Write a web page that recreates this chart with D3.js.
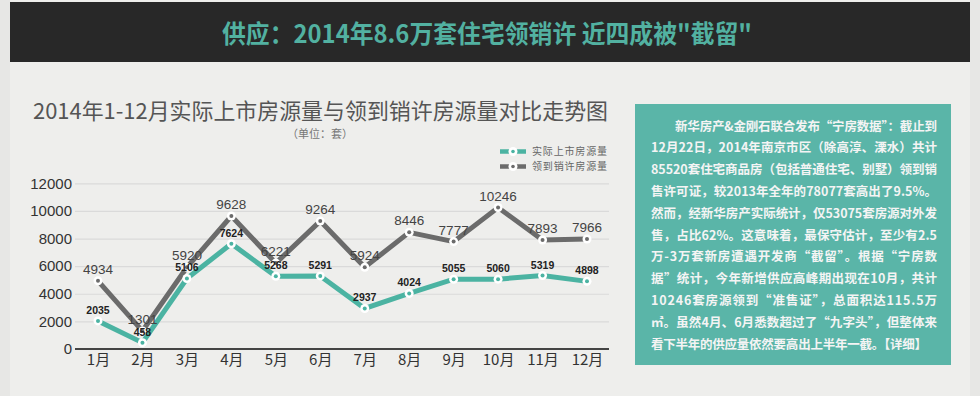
<!DOCTYPE html>
<html>
<head>
<meta charset="utf-8">
<script src="https://cdn.jsdelivr.net/npm/d3@7"></script>
<style>
  html, body { margin: 0; padding: 0; background: #e7e7e5; }
  svg { display: block; }
</style>
</head>
<body>
<script>
// months on the x axis
var months = ["1月","2月","3月","4月","5月","6月","7月","8月","9月","10月","11月","12月"];
// 领到销许房源量 (grey line)
var permitted = [4934, 1301, 5920, 9628, 6221, 9264, 5924, 8446, 7777, 10246, 7893, 7966];
// 实际上市房源量 (teal line)
var listed = [2035, 458, 5106, 7624, 5268, 5291, 2937, 4024, 5055, 5060, 5319, 4898];
var yTicks = [0, 2000, 4000, 6000, 8000, 10000, 12000];
var legendLabels = ["实际上市房源量", "领到销许房源量"];
var headline = "供应：2014年8.6万套住宅领销许 近四成被\"截留\"";
var chartTitle = "2014年1-12月实际上市房源量与领到销许房源量对比走势图";
var unitLabel = "（单位：套）";
var noteLines = [
  "新华房产&金刚石联合发布“宁房数据”：截止到",
  "12月22日，2014年南京市区（除高淳、溧水）共计",
  "85520套住宅商品房（包括普通住宅、别墅）领到销",
  "售许可证，较2013年全年的78077套高出了9.5%。",
  "然而，经新华房产实际统计，仅53075套房源对外发",
  "售，占比62%。这意味着，最保守估计，至少有2.5",
  "万-3万套新房遭遇开发商“截留”。根据“宁房数",
  "据”统计，今年新增供应高峰期出现在10月，共计",
  "10246套房源领到“准售证”，总面积达115.5万",
  "㎡。虽然4月、6月悉数超过了“九字头”，但整体来",
  "看下半年的供应量依然要高出上半年一截。【详细】"
];

var width = 980, height = 396;
var teal = "#4bb3a2", grey = "#6b6b6b";
var cjk = "'Noto Sans CJK SC', 'Noto Sans', sans-serif";
var latin = "'Liberation Sans', Arial, sans-serif";

var svg = d3.select("body").append("svg")
  .attr("width", width)
  .attr("height", height);

// panel + headline bar
svg.append("rect").attr("x", 10).attr("y", 0).attr("width", 960).attr("height", height).attr("fill", "#eeeeec");
svg.append("rect").attr("x", 10).attr("y", 2).attr("width", 960).attr("height", 60).attr("fill", "#282828");
svg.append("text")
  .attr("x", 487).attr("y", 43)
  .attr("text-anchor", "middle")
  .attr("font-family", cjk).attr("font-weight", "bold").attr("font-size", 25)
  .attr("textLength", 530).attr("lengthAdjust", "spacingAndGlyphs")
  .attr("fill", "#52b1a1")
  .text(headline);

// chart title
svg.append("text")
  .attr("x", 33).attr("y", 119)
  .attr("font-family", cjk).attr("font-size", 22)
  .attr("textLength", 575).attr("lengthAdjust", "spacingAndGlyphs")
  .attr("fill", "#555")
  .text(chartTitle);
svg.append("text")
  .attr("x", 320).attr("y", 138)
  .attr("text-anchor", "middle")
  .attr("font-family", cjk).attr("font-size", 11)
  .attr("fill", "#777")
  .text(unitLabel);

//scales
var x = d3.scalePoint().domain(months).range([98, 587]);
var y = d3.scaleLinear().domain([0, 12000]).range([349, 183.3]);

// y axis with grid
var yAxis = svg.append("g")
  .attr("transform", "translate(75,0)")
  .call(d3.axisLeft(y).tickValues(yTicks).tickFormat(d3.format("d")).tickSize(-534).tickPadding(3));
yAxis.select(".domain").remove();
yAxis.selectAll(".tick line").attr("stroke", "#dadada").attr("stroke-width", 1.2);
yAxis.selectAll(".tick text")
  .attr("font-family", latin).attr("font-size", 15).attr("fill", "#333");

// x axis
var xAxis = svg.append("g")
  .attr("transform", "translate(0,349)")
  .call(d3.axisBottom(x).tickSize(0).tickPadding(5));
xAxis.select(".domain").remove();
xAxis.selectAll(".tick text")
  .attr("font-family", cjk).attr("font-size", 15).attr("fill", "#333");
svg.append("line")
  .attr("x1", 75).attr("x2", 609)
  .attr("y1", y(0)).attr("y2", y(0))
  .attr("stroke", "#444").attr("stroke-width", 2);

var line = d3.line()
  .x(function(d, i) { return x(months[i]); })
  .y(function(d) { return y(d); });

var series = [
  {values: permitted, color: grey, labelSize: 13.5, labelColor: "#444", labelWeight: "normal"},
  {values: listed, color: teal, labelSize: 10.5, labelColor: "#222", labelWeight: "bold"}
];

series.forEach(function(s) {
  svg.append("path")
    .datum(s.values)
    .attr("d", line)
    .attr("fill", "none")
    .attr("stroke", s.color)
    .attr("stroke-width", 5)
    .attr("stroke-linejoin", "miter");
});

series.forEach(function(s) {
  var g = svg.append("g");
  g.selectAll(".ring")
    .data(s.values)
    .enter()
    .append("circle")
    .attr("cx", function(d, i) { return x(months[i]); })
    .attr("cy", function(d) { return y(d); })
    .attr("r", 4.5)
    .attr("fill", "#fff");
  g.selectAll(".dot")
    .data(s.values)
    .enter()
    .append("circle")
    .attr("cx", function(d, i) { return x(months[i]); })
    .attr("cy", function(d) { return y(d); })
    .attr("r", 2)
    .attr("fill", s.color);
});

series.forEach(function(s) {
  svg.append("g").selectAll("text")
    .data(s.values)
    .enter()
    .append("text")
    .attr("x", function(d, i) { return x(months[i]); })
    .attr("y", function(d) { return y(d) - 7; })
    .attr("text-anchor", "middle")
    .attr("font-family", latin)
    .attr("font-size", s.labelSize)
    .attr("font-weight", s.labelWeight)
    .attr("fill", s.labelColor)
    .text(function(d) { return d; });
});

// legend
var legend = svg.selectAll(".legend")
  .data(legendLabels)
  .enter()
  .append("g")
  .attr("class", "legend")
  .attr("transform", function(d, i) { return "translate(500," + (151.5 + i * 15) + ")"; });
legend.append("line")
  .attr("x1", 0).attr("x2", 26).attr("y1", 0).attr("y2", 0)
  .attr("stroke", function(d, i) { return i == 0 ? teal : grey; })
  .attr("stroke-width", 4.5);
legend.append("circle").attr("cx", 13).attr("cy", 0).attr("r", 4.5).attr("fill", "#fff");
legend.append("circle").attr("cx", 13).attr("cy", 0).attr("r", 1.8)
  .attr("fill", function(d, i) { return i == 0 ? teal : grey; });
legend.append("text")
  .attr("x", 32).attr("y", 3.5)
  .attr("font-family", cjk).attr("font-size", 10)
  .attr("textLength", 75).attr("lengthAdjust", "spacing")
  .attr("fill", "#666")
  .text(function(d) { return d; });

// note box
svg.append("rect")
  .attr("x", 635).attr("y", 104).attr("width", 316).attr("height", 261)
  .attr("fill", "#5ab5a8");
svg.append("g").selectAll("text")
  .data(noteLines)
  .enter()
  .append("text")
  .attr("x", function(d, i) { return i == 0 ? 675 : 651; })
  .attr("y", function(d, i) { return 130.5 + i * 21.8; })
  .attr("font-family", cjk).attr("font-weight", "bold").attr("font-size", 12.5)
  .attr("fill", "#f4f4f4")
  .attr("textLength", function(d, i) { return i == 0 ? 262 : (i == noteLines.length - 1 ? 276 : 286); })
  .attr("lengthAdjust", "spacing")
  .text(function(d) { return d; });
</script>
</body>
</html>
